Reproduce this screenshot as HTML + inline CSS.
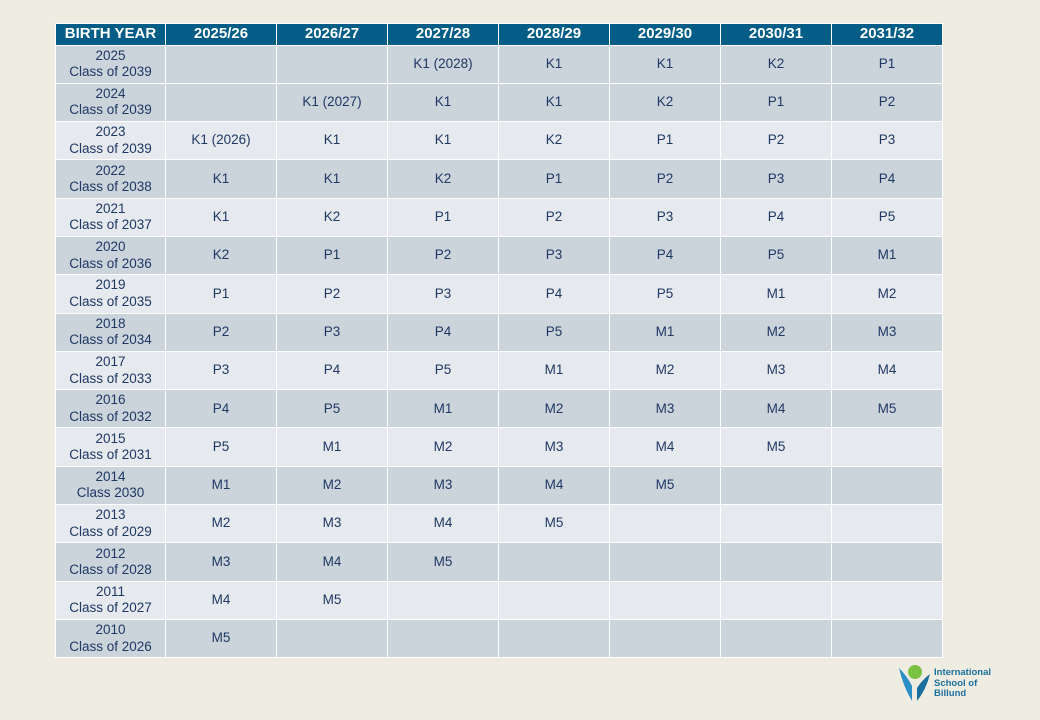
<!DOCTYPE html>
<html><head><meta charset="utf-8"><style>
body{margin:0;width:1040px;height:720px;background:#efece2;position:relative;overflow:hidden;font-family:"Liberation Sans",sans-serif}
table{position:absolute;left:55px;top:23px;border-collapse:collapse;table-layout:fixed}
td,th{border:1.5px solid #fff;text-align:center;padding:0;color:#1f3864;font-size:13.5px;line-height:16.5px}
th{background:#035d86;color:#fff;font-size:15px;font-weight:bold;height:20.5px}
td{height:37.3px}
tr.d td{background:#cbd3db}
tr.l td{background:#e6e9ed}
</style></head><body>
<table>
<colgroup><col style="width:110px"><col style="width:111px"><col style="width:111px"><col style="width:111px"><col style="width:111px"><col style="width:111px"><col style="width:111px"><col style="width:111px"></colgroup>
<tr><th>BIRTH YEAR</th><th>2025/26</th><th>2026/27</th><th>2027/28</th><th>2028/29</th><th>2029/30</th><th>2030/31</th><th>2031/32</th></tr>
<tr class="d"><td>2025<br>Class of 2039</td><td></td><td></td><td>K1 (2028)</td><td>K1</td><td>K1</td><td>K2</td><td>P1</td></tr>
<tr class="d"><td>2024<br>Class of 2039</td><td></td><td>K1 (2027)</td><td>K1</td><td>K1</td><td>K2</td><td>P1</td><td>P2</td></tr>
<tr class="l"><td>2023<br>Class of 2039</td><td>K1 (2026)</td><td>K1</td><td>K1</td><td>K2</td><td>P1</td><td>P2</td><td>P3</td></tr>
<tr class="d"><td>2022<br>Class of 2038</td><td>K1</td><td>K1</td><td>K2</td><td>P1</td><td>P2</td><td>P3</td><td>P4</td></tr>
<tr class="l"><td>2021<br>Class of 2037</td><td>K1</td><td>K2</td><td>P1</td><td>P2</td><td>P3</td><td>P4</td><td>P5</td></tr>
<tr class="d"><td>2020<br>Class of 2036</td><td>K2</td><td>P1</td><td>P2</td><td>P3</td><td>P4</td><td>P5</td><td>M1</td></tr>
<tr class="l"><td>2019<br>Class of 2035</td><td>P1</td><td>P2</td><td>P3</td><td>P4</td><td>P5</td><td>M1</td><td>M2</td></tr>
<tr class="d"><td>2018<br>Class of 2034</td><td>P2</td><td>P3</td><td>P4</td><td>P5</td><td>M1</td><td>M2</td><td>M3</td></tr>
<tr class="l"><td>2017<br>Class of 2033</td><td>P3</td><td>P4</td><td>P5</td><td>M1</td><td>M2</td><td>M3</td><td>M4</td></tr>
<tr class="d"><td>2016<br>Class of 2032</td><td>P4</td><td>P5</td><td>M1</td><td>M2</td><td>M3</td><td>M4</td><td>M5</td></tr>
<tr class="l"><td>2015<br>Class of 2031</td><td>P5</td><td>M1</td><td>M2</td><td>M3</td><td>M4</td><td>M5</td><td></td></tr>
<tr class="d"><td>2014<br>Class 2030</td><td>M1</td><td>M2</td><td>M3</td><td>M4</td><td>M5</td><td></td><td></td></tr>
<tr class="l"><td>2013<br>Class of 2029</td><td>M2</td><td>M3</td><td>M4</td><td>M5</td><td></td><td></td><td></td></tr>
<tr class="d"><td>2012<br>Class of 2028</td><td>M3</td><td>M4</td><td>M5</td><td></td><td></td><td></td><td></td></tr>
<tr class="l"><td>2011<br>Class of 2027</td><td>M4</td><td>M5</td><td></td><td></td><td></td><td></td><td></td></tr>
<tr class="d"><td>2010<br>Class of 2026</td><td>M5</td><td></td><td></td><td></td><td></td><td></td><td></td></tr>
</table>
<svg style="position:absolute;left:897px;top:664px" width="36" height="40">
<circle cx="18" cy="8" r="7" fill="#7cc242"/>
<path d="M2 4 Q6 22 15 37 L15 22 Q10 12 2 4Z" fill="#2a8fc4"/>
<path d="M33 10 Q29 26 20 37 L20 24 Q25 16 33 10Z" fill="#1b6f9e"/>
</svg>
<div style="position:absolute;left:934px;top:668px;font-size:9.5px;line-height:10.5px;font-weight:bold;color:#1b6f9e">International<br>School of<br>Billund</div>
</body></html>
